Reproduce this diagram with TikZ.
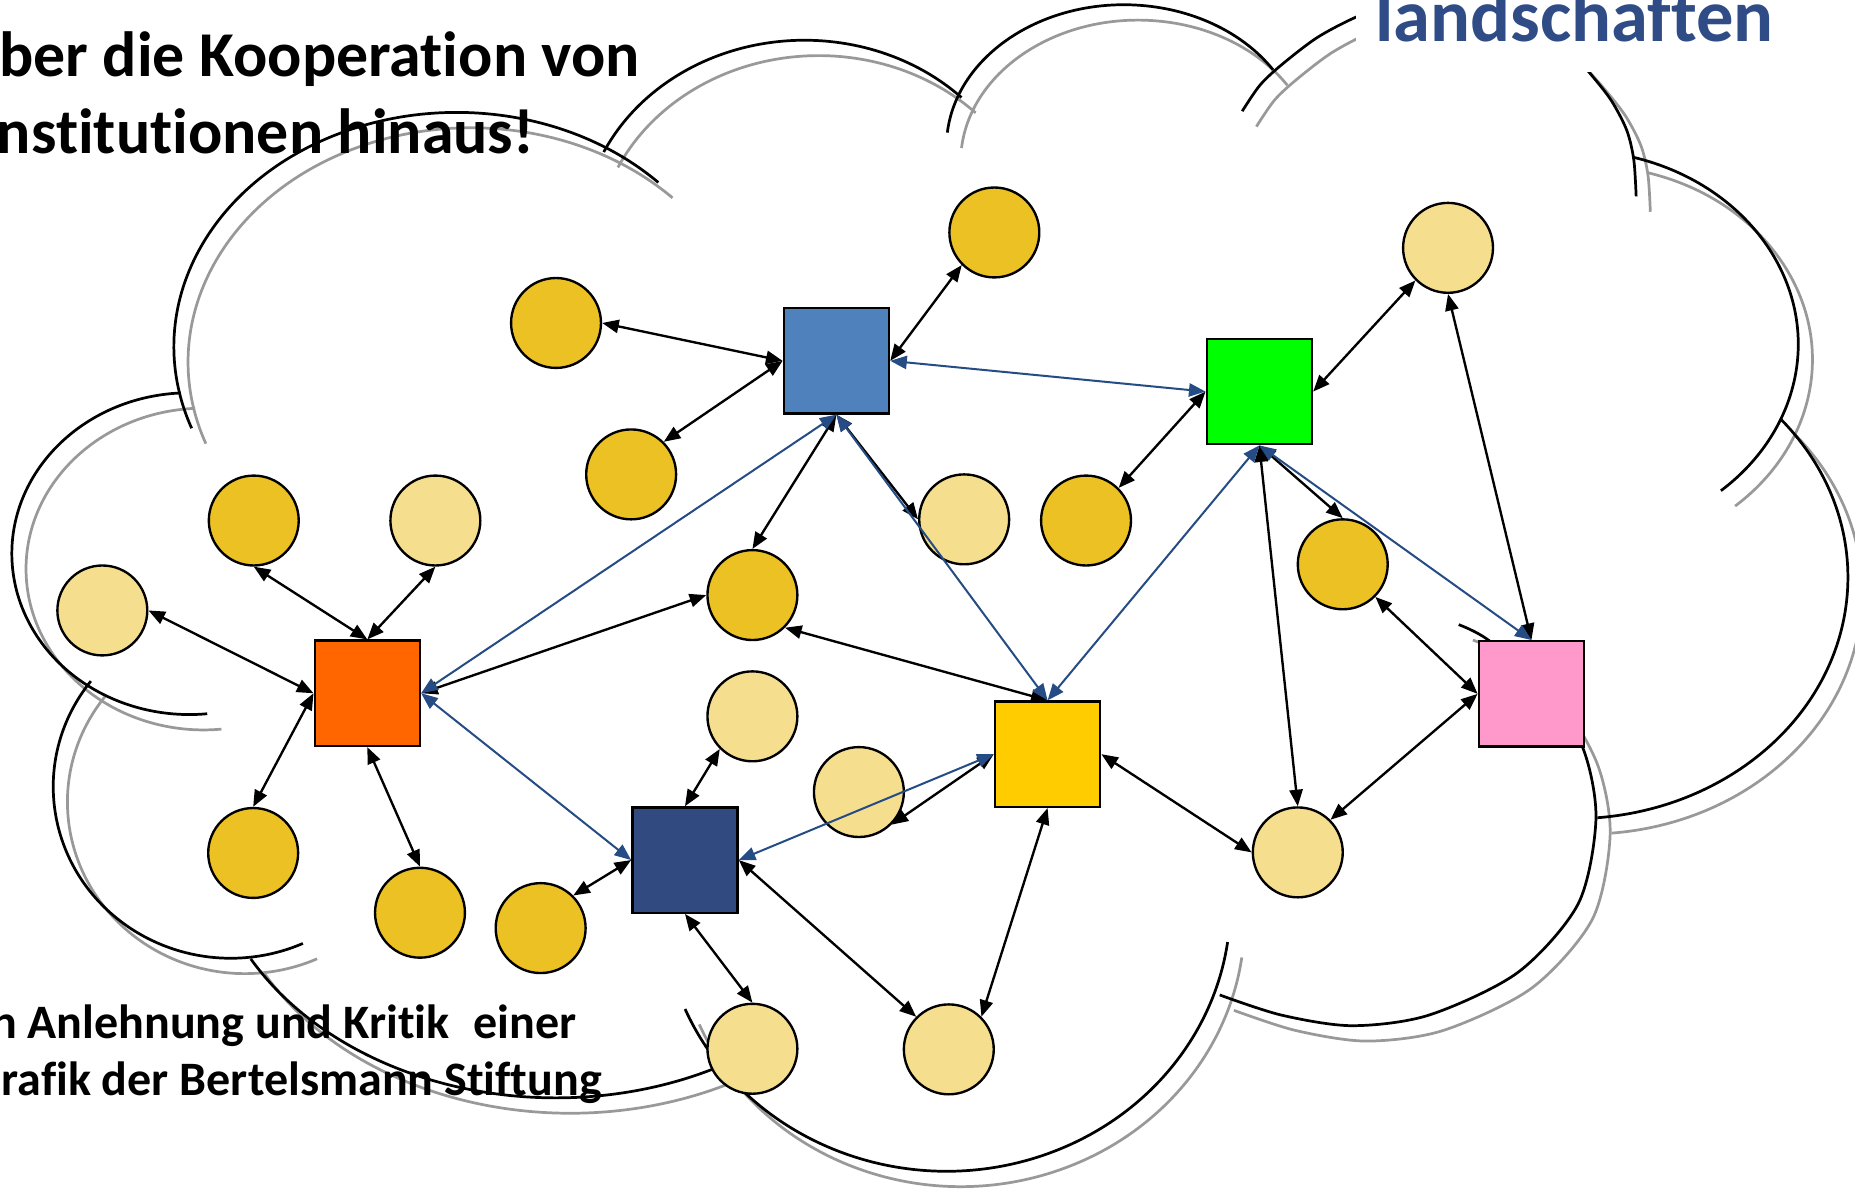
\documentclass[tikz,border=0pt]{standalone}
\usepackage{fontspec}
\setmainfont{Carlito}[Ligatures={NoCommon,NoRequired,NoContextual}]
\usetikzlibrary{arrows.meta}
\definecolor{goldD}{HTML}{EBC124}
\definecolor{goldL}{HTML}{F5DF8F}
\definecolor{boxBlue}{HTML}{4F81BD}
\definecolor{boxNavy}{HTML}{314A80}
\definecolor{boxOrange}{HTML}{FF6600}
\definecolor{boxYellow}{HTML}{FFCC00}
\definecolor{boxGreen}{HTML}{00FF00}
\definecolor{boxPink}{HTML}{FF99CC}
\definecolor{linkBlue}{HTML}{254C84}
\definecolor{titleBlue}{HTML}{2F4C86}
\definecolor{shadowGray}{HTML}{999999}
% elliptical arc: style, cx, cy, rx, ry, start, end
\newcommand\earc[7]{\draw[#1] ({#2+#4*cos(#6)},{#3+#5*sin(#6)}) arc[start angle=#6,end angle=#7,x radius=#4,y radius=#5];}
\newcommand\cloudall[1]{%
  \earc{#1}{386}{293}{239}{198}{159.6}{315.5}
  \earc{#1}{160}{468}{150}{136}{267.3}{84.2}
  \earc{#1}{195}{665}{150}{145}{218}{66}
  \earc{#1}{470}{700}{295}{228}{151}{55}
  \earc{#1}{800}{765}{240}{225}{157}{8}
  \draw[#1] plot[smooth] coordinates {(1031,841) (1083,858) (1143,867) (1208,858) (1283,822) (1334,764) (1349,693) (1339,635) (1310,585) (1258,541) (1233,528)};
  \earc{#1}{1330}{488}{232}{204}{-41}{85}
  \earc{#1}{1330}{291}{190}{164}{-74.7}{49}
  \draw[#1] plot[smooth] coordinates {(1320,35) (1344,62) (1362,85) (1375,110) (1381,135) (1383,166)};
  \earc{#1}{680}{200}{188}{166}{205.5}{314.9}
  \earc{#1}{950}{124}{150}{120}{185.7}{327.2}
  \draw[#1] plot[smooth] coordinates {(1050,94) (1065,72) (1083,55) (1113,32) (1145,15) (1180,2)};
}
\begin{document}
\begin{tikzpicture}[x=0.5pt,y=-0.5pt,
  sq/.style={draw=black,line width=1pt,minimum size=44.5pt,inner sep=0pt},
  dot/.style={circle,draw=black,line width=1pt,minimum size=38pt,inner sep=0pt},
  dk/.style={dot,fill=goldD},
  lt/.style={dot,fill=goldL},
  tip/.tip={Triangle[length=7pt,width=5.6pt]},
  blk/.style={draw=black,line width=1pt,tip-tip},
  blu/.style={draw=linkBlue,line width=0.85pt,tip-tip},
  cloudline/.style={line width=1.15pt,draw=black},
  cloudshadow/.style={line width=1.15pt,draw=shadowGray},
  txt/.style={anchor=base west,inner sep=0pt,font=\bfseries\fontsize{27pt}{32pt}\selectfont},
  smalltxt/.style={anchor=base west,inner sep=0pt,font=\bfseries\fontsize{20.3pt}{24pt}\selectfont}
  ]
\useasboundingbox (0,0) rectangle (1568,1006);
\clip (0,0) rectangle (1568,1006);
% cloud
\cloudall{cloudshadow,shift={(12,13)}}
\cloudall{cloudline}
\fill[white] (1146,-10) rectangle (1600,61);
% texts
\node[txt] (t1) at (-1,64.7) {ber die Kooperation von};
\node[txt] (t2) at (-3,129.4) {nstitutionen hinaus!};
\node[anchor=base west,inner sep=0pt,text=titleBlue,font=\bfseries\fontsize{31.5pt}{37pt}\selectfont] (t3) at (1162,35) {landschaften};
\node[smalltxt] (t4) at (-8,877.5) {n Anlehnung und Kritik\hspace{0.5em}einer};
\node[smalltxt] (t5) at (1,926) {rafik der Bertelsmann Stiftung};
% boxes
\node[sq,fill=boxBlue] (blue) at (707,305) {};
\node[sq,fill=boxGreen] (green) at (1064.5,331) {};
\node[sq,fill=boxOrange] (orange) at (310.5,586) {};
\node[sq,fill=boxYellow] (yellow) at (885.5,637.5) {};
\node[sq,fill=boxNavy] (navy) at (579,727) {};
\node[sq,fill=boxPink] (pink) at (1294.5,586.5) {};
% circles
\node[dk] (c1) at (470,273) {};
\node[dk] (c2) at (840.5,196.5) {};
\node[dk] (c3) at (533.5,401) {};
\node[dk] (c4) at (918,440) {};
\node[dk] (c5) at (214.5,440) {};
\node[dk] (c6) at (636,503) {};
\node[dk] (c7) at (1135,477) {};
\node[dk] (c8) at (214,721) {};
\node[dk] (c9) at (355,771.5) {};
\node[dk] (c10) at (457,784.5) {};
\node[lt] (l1) at (1224,209.5) {};
\node[lt] (l2) at (815,439) {};
\node[lt] (l3) at (368,440) {};
\node[lt] (l4) at (86.5,516) {};
\node[lt] (l5) at (636,605.5) {};
\node[lt] (l6) at (726,669.5) {};
\node[lt] (l7) at (1097,720.5) {};
\node[lt] (l8) at (636,886.5) {};
\node[lt] (l9) at (802,887) {};
% black connectors
\draw[blk] (c1.east) -- (blue.west);
\draw[blk] (c3.north east) -- (blue.west);
\draw[blk] (c2.south west) -- (blue.east);
\draw[blk] (blue.south) -- (c6.north);
\draw[blk] (blue.south) -- (l2.west);
\draw[blk] (orange.north) -- (c5.south);
\draw[blk] (orange.north) -- (l3.south);
\draw[blk] (orange.west) -- (l4.east);
\draw[blk] (orange.west) -- (c8.north);
\draw[blk] (orange.east) -- (c6.west);
\draw[blk] (orange.south) -- (c9.north);
\draw[blk] (navy.north) -- (l5.south west);
\draw[blk] (navy.west) -- (c10.north east);
\draw[blk] (navy.south) -- (l8.north);
\draw[blk] (navy.east) -- (l9.north west);
\draw[blk] (yellow.west) -- (l6.south east);
\draw[blk] (c6.south east) -- (yellow.north);
\draw[blk] (yellow.south) -- (l9.north east);
\draw[blk] (yellow.east) -- (l7.west);
\draw[blk] (green.west) -- (c4.north east);
\draw[blk] (green.east) -- (l1.south west);
\draw[blk] (green.south) -- (c7.north);
\draw[blk] (green.south) -- (l7.north);
\draw[blk] (pink.north) -- (l1.south);
\draw[blk] (pink.west) -- (c7.south east);
\draw[blk] (pink.west) -- (l7.north east);
% blue connectors
\draw[blu] (blue.east) -- (green.west);
\draw[blu] (blue.south) -- (orange.east);
\draw[blu] (blue.south) -- (yellow.north);
\draw[blu] (green.south) -- (yellow.north);
\draw[blu] (green.south) -- (pink.north);
\draw[blu] (orange.east) -- (navy.west);
\draw[blu] (navy.east) -- (yellow.west);
\end{tikzpicture}
\end{document}
